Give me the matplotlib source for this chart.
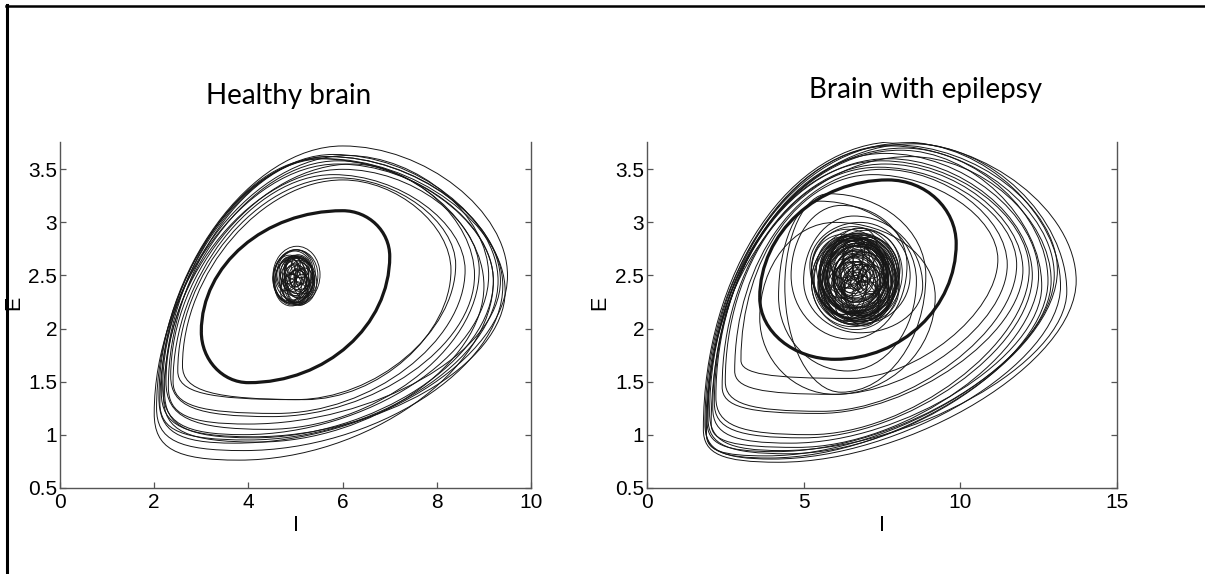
import matplotlib
matplotlib.use('Agg')
import matplotlib.pyplot as plt
from matplotlib.path import Path
from matplotlib.patches import PathPatch, Ellipse
from matplotlib.lines import Line2D

# ---- healthy brain: big outer orbits (extreme points of each loop) ----
h_left_x = [2.00, 2.05, 2.10, 2.12, 2.15, 2.18, 2.20, 2.25, 2.30, 2.35, 2.40, 2.50, 2.60, 2.22]
h_left_y = [1.20, 1.25, 1.35, 1.30, 1.40, 1.45, 1.35, 1.50, 1.45, 1.55, 1.50, 1.60, 1.65, 1.40]
h_bot_x = [3.8, 3.9, 3.7, 4.0, 4.1, 3.9, 4.2, 4.4, 4.0, 4.5, 4.6, 5.0, 5.2, 4.1]
h_bot_y = [0.76, 0.85, 0.92, 0.95, 0.98, 1.00, 0.93, 1.05, 1.10, 1.17, 1.20, 1.33, 1.33, 0.97]
h_right_x = [9.2, 9.4, 9.5, 9.3, 9.45, 9.1, 9.0, 8.9, 9.35, 8.8, 8.6, 8.4, 8.3, 9.2]
h_right_y = [2.45, 2.40, 2.50, 2.45, 2.35, 2.50, 2.40, 2.55, 2.45, 2.50, 2.55, 2.60, 2.55, 2.45]
h_top_x = [5.9, 5.7, 6.0, 5.8, 5.6, 6.1, 5.9, 6.0, 5.7, 6.2, 5.8, 5.9, 6.0, 5.5]
h_top_y = [3.55, 3.62, 3.72, 3.64, 3.60, 3.63, 3.58, 3.50, 3.62, 3.55, 3.45, 3.42, 3.40, 3.60]

# limit cycle (thick): left, bottom, right, top
h_cycle = [(3.0, 1.97), (4.0, 1.49), (7.0, 2.68), (6.0, 3.11)]

# small chaotic knot around the fixed point
h_knot_x = [5.00, 5.05, 4.95, 5.02, 4.98, 5.08, 4.92, 5.00, 5.04, 4.97, 5.10,
            4.90, 5.02, 5.06, 4.96, 5.00, 5.03, 4.94, 5.07, 5.01, 5.02, 5.05,
            4.85, 5.15, 4.90, 5.10, 5.00, 4.80, 5.20, 4.95, 5.05, 4.88, 5.12, 5.00, 4.93, 5.08]
h_knot_y = [2.48, 2.45, 2.50, 2.44, 2.52, 2.47, 2.46, 2.42, 2.50, 2.49, 2.44,
            2.48, 2.40, 2.53, 2.45, 2.47, 2.43, 2.51, 2.46, 2.49, 2.50, 2.48,
            2.55, 2.40, 2.38, 2.58, 2.47, 2.50, 2.45, 2.60, 2.33, 2.44, 2.52, 2.36, 2.56, 2.48]
h_knot_w = [0.95, 0.80, 0.85, 0.70, 0.75, 0.65, 0.72, 0.60, 0.55, 0.90, 0.62,
            0.68, 0.50, 0.58, 0.82, 0.45, 0.40, 0.52, 0.35, 0.30, 1.00, 0.66,
            0.40, 0.35, 0.45, 0.38, 0.25, 0.42, 0.36, 0.30, 0.44, 0.28, 0.32, 0.50, 0.34, 0.22]
h_knot_h = [0.52, 0.45, 0.48, 0.40, 0.42, 0.38, 0.44, 0.36, 0.34, 0.50, 0.40,
            0.42, 0.30, 0.33, 0.47, 0.28, 0.25, 0.32, 0.22, 0.20, 0.55, 0.38,
            0.25, 0.22, 0.26, 0.20, 0.15, 0.28, 0.24, 0.18, 0.22, 0.16, 0.20, 0.24, 0.19, 0.14]
h_knot_a = [3, -4, 6, -2, 1, -6, 4, 0, -3, 5, 2, -5, 3, -1, 6, -4, 2, 0, -2, 4, 1, -3,
            5, -6, 8, -4, 0, 7, -5, 3, -7, 6, -2, 4, -8, 2]

# ---- brain with epilepsy ----
e_left_x = [1.80, 1.85, 1.90, 1.95, 2.00, 2.05, 2.10, 1.88, 1.92, 2.15, 2.20, 2.40, 2.50, 2.80, 3.00]
e_left_y = [1.05, 1.10, 1.00, 1.15, 1.20, 1.10, 1.25, 1.05, 1.12, 1.30, 1.35, 1.45, 1.50, 1.60, 1.70]
e_bot_x = [4.2, 4.0, 3.8, 4.5, 4.3, 4.8, 4.6, 3.9, 4.1, 5.0, 5.2, 5.5, 5.6, 6.0, 6.5]
e_bot_y = [0.74, 0.77, 0.80, 0.82, 0.85, 0.88, 0.92, 0.78, 0.84, 0.97, 1.00, 1.20, 1.22, 1.38, 1.53]
e_right_x = [13.7, 13.2, 13.0, 12.8, 13.4, 12.5, 12.6, 13.1, 12.9, 12.3, 12.2, 12.0, 11.8, 11.5, 11.2]
e_right_y = [2.45, 2.40, 2.50, 2.45, 2.35, 2.50, 2.40, 2.55, 2.45, 2.50, 2.55, 2.55, 2.60, 2.60, 2.65]
e_top_x = [8.0, 8.3, 7.8, 8.2, 8.5, 7.6, 8.1, 7.9, 8.4, 7.7, 7.5, 7.6, 7.4, 7.5, 7.2]
e_top_y = [3.76, 3.75, 3.72, 3.70, 3.74, 3.65, 3.68, 3.73, 3.62, 3.60, 3.58, 3.55, 3.52, 3.50, 3.45]

# spiral loops around the knot
m_left_x = [4.4, 4.6, 5.0, 3.6, 4.2, 5.2]
m_left_y = [2.4, 2.5, 2.45, 2.1, 2.3, 2.6]
m_bot_x = [6.2, 6.5, 6.8, 6.0, 6.4, 6.9]
m_bot_y = [1.40, 1.90, 1.96, 1.38, 1.60, 2.05]
m_right_x = [8.9, 8.3, 8.8, 9.2, 8.6, 8.4]
m_right_y = [2.5, 2.6, 2.4, 2.3, 2.45, 2.5]
m_top_x = [5.8, 6.2, 6.6, 6.0, 5.5, 6.8]
m_top_y = [3.27, 3.16, 3.06, 3.00, 3.20, 3.00]

e_cycle = [(3.6, 2.29), (6.0, 1.71), (9.87, 2.80), (7.7, 3.40)]

e_knot_x = [6.70, 6.60, 6.80, 6.65, 6.75, 6.55, 6.85, 6.70, 6.62, 6.78, 6.50, 6.90, 6.68, 6.72, 6.58,
            6.82, 6.66, 6.74, 6.60, 6.80, 6.70, 6.64, 6.76, 6.56, 6.88, 6.69, 6.71, 6.63, 6.77, 6.67,
            6.73, 6.59, 6.81, 6.70, 6.65, 6.75, 6.61, 6.79, 6.68, 6.72, 6.70, 6.66, 6.74, 6.62,
            6.30, 7.00, 6.50, 6.90, 6.40, 7.10, 6.60, 6.80, 6.20, 7.20, 6.45, 6.95, 6.55, 6.85, 6.70,
            6.35, 7.05, 6.60, 6.80, 6.50, 6.90, 6.40, 7.00, 6.65, 6.75, 6.30, 7.10, 6.55, 6.85, 6.70]
e_knot_y = [2.48, 2.50, 2.45, 2.52, 2.47, 2.46, 2.50, 2.43, 2.49, 2.51, 2.48, 2.44, 2.53, 2.46, 2.42,
            2.49, 2.47, 2.50, 2.45, 2.48, 2.52, 2.44, 2.46, 2.50, 2.47, 2.49, 2.45, 2.51, 2.43, 2.48,
            2.50, 2.46, 2.52, 2.47, 2.44, 2.49, 2.48, 2.45, 2.50, 2.47, 2.46, 2.49, 2.51, 2.48,
            2.60, 2.35, 2.30, 2.65, 2.45, 2.55, 2.70, 2.25, 2.50, 2.42, 2.62, 2.40, 2.52, 2.30, 2.48,
            2.38, 2.66, 2.58, 2.36, 2.44, 2.55, 2.68, 2.28, 2.40, 2.62, 2.50, 2.46, 2.34, 2.52, 2.45]
e_knot_w = [2.9, 2.7, 2.5, 2.8, 2.3, 2.6, 2.4, 2.2, 2.0, 2.6, 2.1, 2.3, 1.9, 2.5, 2.2,
            1.8, 2.7, 2.4, 1.7, 2.1, 2.0, 2.6, 1.6, 2.3, 1.9, 1.5, 2.4, 2.2, 1.8, 1.4,
            2.5, 2.0, 1.7, 1.3, 2.8, 1.9, 2.2, 1.6, 1.2, 2.1, 1.1, 2.3, 1.5, 1.0,
            1.2, 1.4, 1.0, 1.3, 0.9, 1.1, 1.5, 1.2, 0.8, 1.0, 1.3, 1.6, 0.7, 1.1, 0.6,
            1.4, 1.0, 0.9, 1.2, 0.5, 1.3, 1.1, 0.9, 0.8, 1.0, 1.2, 0.7, 1.5, 0.6, 0.4]
e_knot_h = [0.92, 0.86, 0.80, 0.88, 0.74, 0.84, 0.76, 0.70, 0.66, 0.82, 0.68, 0.72, 0.62, 0.78, 0.70,
            0.58, 0.85, 0.76, 0.56, 0.66, 0.64, 0.82, 0.52, 0.72, 0.60, 0.48, 0.76, 0.70, 0.56, 0.44,
            0.80, 0.64, 0.54, 0.40, 0.90, 0.60, 0.70, 0.50, 0.38, 0.66, 0.34, 0.74, 0.46, 0.30,
            0.45, 0.50, 0.38, 0.42, 0.34, 0.40, 0.48, 0.44, 0.30, 0.36, 0.46, 0.52, 0.28, 0.40, 0.24,
            0.48, 0.36, 0.32, 0.42, 0.20, 0.44, 0.38, 0.34, 0.30, 0.36, 0.42, 0.26, 0.50, 0.22, 0.16]
e_knot_a = [2, -3, 4, -1, 3, -4, 1, 0, -2, 3, 4, -3, 2, -1, 3,
            -2, 1, 0, -3, 2, 4, -1, 3, -4, 1, 0, -2, 2, 4, -3,
            1, -1, 3, -2, 0, 2, -4, 1, 3, -1, 2, -3, 0, 1,
            6, -5, 8, -7, 3, -4, 5, -6, 7, -3, 4, -8, 6, -5, 2,
            7, -6, 5, -4, 3, -7, 8, -2, 6, -5, 4, -3, 7, -6, 0]

y_ticks = [0.5, 1, 1.5, 2, 2.5, 3, 3.5]
y_labels = ['0.5', '1', '1.5', '2', '2.5', '3', '3.5']

LINE = '#161616'


def orbit(ax, lx, ly, bx, by, rx, ry, tx, ty, k=(0.55, 0.55, 0.55, 0.55), lw=0.7):
    k1, k2, k3, k4 = k
    verts = [(lx, ly),
             (lx, ly - k1 * (ly - by)), (bx - k1 * (bx - lx), by), (bx, by),
             (bx + k2 * (rx - bx), by), (rx, ry - k2 * (ry - by)), (rx, ry),
             (rx, ry + k3 * (ty - ry)), (tx + k3 * (rx - tx), ty), (tx, ty),
             (tx - k4 * (tx - lx), ty), (lx, ly + k4 * (ty - ly)), (lx, ly)]
    codes = [Path.MOVETO] + [Path.CURVE4] * 12
    ax.add_patch(PathPatch(Path(verts, codes), fill=False, ec=LINE, lw=lw))


def knot(ax, xs, ys, ws, hs, angs):
    for x, y, w, h, a in zip(xs, ys, ws, hs, angs):
        ax.add_patch(Ellipse((x, y), w, h, angle=a, fill=False, ec=LINE, lw=0.65))


def style(ax, xlim, xticks, ylab_x):
    ax.set_xlim(xlim)
    ax.set_ylim(0.5, 3.76)
    ax.set_xticks(xticks)
    ax.set_xticklabels([str(t) for t in xticks])
    ax.set_yticks(y_ticks)
    ax.set_yticklabels(y_labels)
    ax.spines['top'].set_visible(False)
    for s in ['left', 'right', 'bottom']:
        ax.spines[s].set_color('#555555')
        ax.spines[s].set_linewidth(1.0)
    ax.tick_params(direction='in', length=4, width=0.9, color='#555555',
                   labelsize=15, labelcolor='black', right=True)
    ax.tick_params(axis='x', pad=4)
    ax.tick_params(axis='y', pad=2)
    ax.set_xlabel('I', fontsize=15.5)
    ax.set_ylabel('E', fontsize=15.5)
    ax.xaxis.set_label_coords(0.5, -0.078)
    ax.yaxis.set_label_coords(ylab_x, 0.534)


plt.rcParams['font.family'] = ['Liberation Sans', 'DejaVu Sans']
fig = plt.figure(figsize=(12.05, 5.74), dpi=100)
fig.set_facecolor('white')

ax1 = fig.add_axes([0.0498, 0.1503, 0.3909, 0.6028])
ax2 = fig.add_axes([0.5369, 0.1503, 0.3900, 0.6028])

egg_h = (0.75, 0.5, 0.5, 0.5)
for i in range(len(h_left_x)):
    orbit(ax1, h_left_x[i], h_left_y[i], h_bot_x[i], h_bot_y[i],
          h_right_x[i], h_right_y[i], h_top_x[i], h_top_y[i], k=egg_h)
orbit(ax1, *h_cycle[0], *h_cycle[1], *h_cycle[2], *h_cycle[3], lw=2.3)
knot(ax1, h_knot_x, h_knot_y, h_knot_w, h_knot_h, h_knot_a)
style(ax1, (0, 10), [0, 2, 4, 6, 8, 10], -0.0765)

egg_e = (0.75, 0.45, 0.5, 0.55)
for i in range(len(e_left_x)):
    orbit(ax2, e_left_x[i], e_left_y[i], e_bot_x[i], e_bot_y[i],
          e_right_x[i], e_right_y[i], e_top_x[i], e_top_y[i], k=egg_e)
for i in range(len(m_left_x)):
    orbit(ax2, m_left_x[i], m_left_y[i], m_bot_x[i], m_bot_y[i],
          m_right_x[i], m_right_y[i], m_top_x[i], m_top_y[i])
orbit(ax2, *e_cycle[0], *e_cycle[1], *e_cycle[2], *e_cycle[3], lw=2.3)
knot(ax2, e_knot_x, e_knot_y, e_knot_w, e_knot_h, e_knot_a)
style(ax2, (0, 15), [0, 5, 10, 15], -0.079)

fig.text(289 / 1205, 1 - 104 / 574, 'Healthy brain', ha='center', va='baseline',
         fontsize=20, family=['Lato', 'DejaVu Sans'])
fig.text(925 / 1205, 1 - 98 / 574, 'Brain with epilepsy', ha='center', va='baseline',
         fontsize=20, family=['Lato', 'DejaVu Sans'])

# page frame on the left and top
fig.add_artist(Line2D([7.5 / 1205, 7.5 / 1205], [0, 1 - 5 / 574], transform=fig.transFigure,
                      color='black', lw=2.2))
fig.add_artist(Line2D([6 / 1205, 1], [1 - 6.2 / 574, 1 - 6.2 / 574], transform=fig.transFigure,
                      color='black', lw=1.8))

fig.savefig('out.png', dpi=100)
